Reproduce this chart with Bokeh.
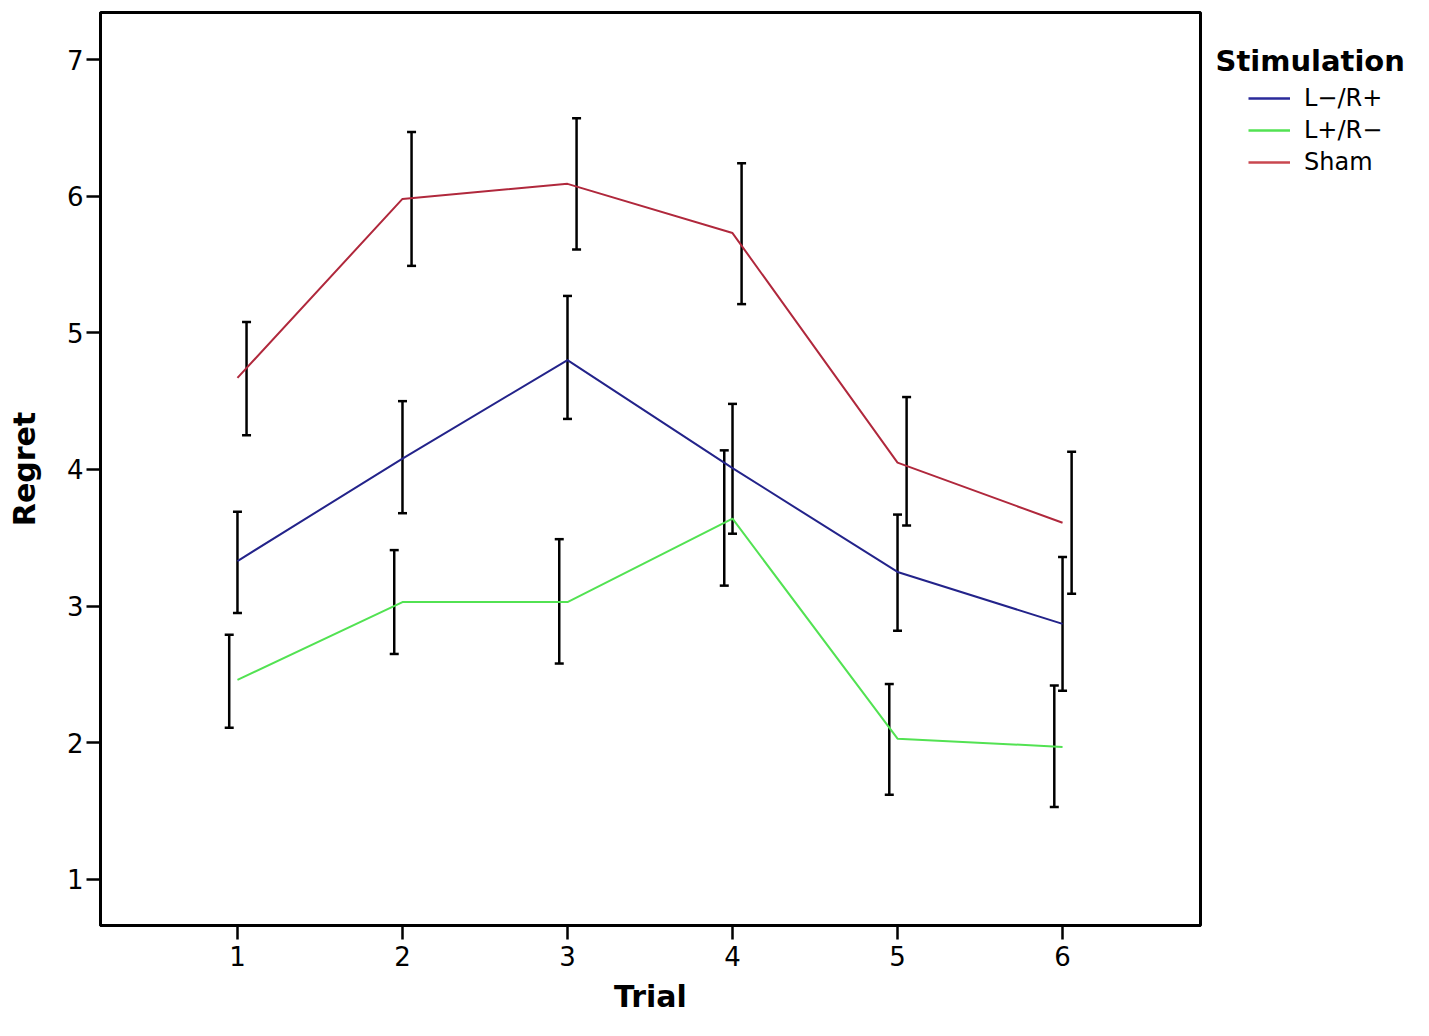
from bokeh.plotting import figure
from bokeh.layouts import row
from bokeh.models import (ColumnDataSource, Whisker, TeeHead, Legend, LegendItem,
                          Label, Range1d, FixedTicker)
from bokeh.transform import dodge
from bokeh.embed import file_html
from bokeh.resources import INLINE

# ---- data ----
trials = [1, 2, 3, 4, 5, 6]
series_names = ["L\u2212/R+", "L+/R\u2212", "Sham"]
legend_title = "Stimulation"

lr_mean = [3.33, 4.08, 4.80, 4.01, 3.25, 2.87]
lr_upper = [3.69, 4.50, 5.27, 4.48, 3.67, 3.36]
lr_lower = [2.95, 3.68, 4.37, 3.53, 2.82, 2.38]

rl_mean = [2.46, 3.03, 3.03, 3.64, 2.03, 1.97]
rl_upper = [2.79, 3.41, 3.49, 4.14, 2.43, 2.42]
rl_lower = [2.11, 2.65, 2.58, 3.15, 1.62, 1.53]

sham_mean = [4.67, 5.98, 6.09, 5.73, 4.05, 3.61]
sham_upper = [5.08, 6.47, 6.57, 6.24, 4.53, 4.13]
sham_lower = [4.25, 5.49, 5.61, 5.21, 3.59, 3.09]

y_ticks = [1, 2, 3, 4, 5, 6, 7]

colors = ["#23238a", "#52e252", "#b0283c"]
legend_colors = ["#2a2a9a", "#52e252", "#c9474f"]
err_offsets = [0.0, -0.05, 0.055]

FONT = "DejaVu Sans"
H = 1020
TOP, BOTTOM = 12, 95
FRAME_H = H - TOP - BOTTOM

p = figure(width=1202, height=H, output_backend="svg", toolbar_location=None,
           x_range=Range1d(0.17, 6.836), y_range=Range1d(0.663, 7.344),
           min_border_left=100, min_border_right=2, min_border_top=TOP,
           min_border_bottom=BOTTOM)

p.grid.visible = False
p.outline_line_color = "black"
p.outline_line_width = 3

for ax in (p.xaxis[0], p.yaxis[0]):
    ax.axis_line_width = 3
    ax.major_tick_line_width = 2.5
    ax.major_tick_in = 0
    ax.major_tick_out = 14
    ax.minor_tick_line_color = None
    ax.major_label_text_font = FONT
    ax.major_label_text_font_size = "26px"
    ax.major_label_text_color = "black"
    ax.axis_label_text_font = FONT
    ax.axis_label_text_font_style = "bold"
    ax.axis_label_text_font_size = "30px"
    ax.axis_label_text_color = "black"

p.xaxis.ticker = FixedTicker(ticks=trials)
p.yaxis.ticker = FixedTicker(ticks=y_ticks)
p.xaxis.axis_label = "Trial"
p.yaxis.axis_label = "Regret"
p.xaxis.major_label_standoff = 6
p.yaxis.major_label_standoff = 3
p.xaxis.axis_label_standoff = 10
p.yaxis.axis_label_standoff = 22

means = [lr_mean, rl_mean, sham_mean]
uppers = [lr_upper, rl_upper, sham_upper]
lowers = [lr_lower, rl_lower, sham_lower]

sources = []
for m, u, l, c, off in zip(means, uppers, lowers, colors, err_offsets):
    src = ColumnDataSource(dict(trial=trials, mean=m, upper=u, lower=l))
    sources.append(src)
    p.line("trial", "mean", source=src, line_color=c, line_width=2)
    w = Whisker(base=dodge("trial", off), upper="upper", lower="lower", source=src,
                line_color="black", line_width=2.5,
                upper_head=TeeHead(size=9, line_color="black", line_width=2.5),
                lower_head=TeeHead(size=9, line_color="black", line_width=2.5))
    p.add_layout(w)

# ---- legend panel (separate figure to the right, frame aligned with main frame) ----
# its ranges lie outside the data, so only the legend itself is visible
lg = figure(width=211, height=H, output_backend="svg", toolbar_location=None,
            x_range=Range1d(100, 101), y_range=Range1d(100, 101),
            min_border_left=0, min_border_right=0, min_border_top=TOP,
            min_border_bottom=BOTTOM)
lg.axis.visible = False
lg.grid.visible = False
lg.outline_line_color = None

leg_renderers = [lg.line("trial", "mean", source=s, line_color=c, line_width=2.5)
                 for s, c in zip(sources, legend_colors)]
legend = Legend(items=[LegendItem(label=n, renderers=[r]) for n, r in zip(series_names, leg_renderers)],
                location=(46, FRAME_H - (176 - TOP)), orientation="vertical",
                padding=0, margin=0, spacing=4, glyph_width=42, glyph_height=28,
                label_height=28, label_standoff=14,
                label_text_font=FONT, label_text_font_size="24px",
                label_text_color="black",
                border_line_alpha=0, background_fill_alpha=0)
lg.add_layout(legend)

title = Label(x=13, y=FRAME_H - (60 - TOP), x_units="screen", y_units="screen",
              text=legend_title,
              text_font=FONT, text_font_style="bold", text_font_size="29px",
              text_color="black", text_baseline="alphabetic", text_align="left")
lg.add_layout(title)

layout = row(p, lg, spacing=0)
open("out.html", "w").write(file_html(layout, INLINE))
